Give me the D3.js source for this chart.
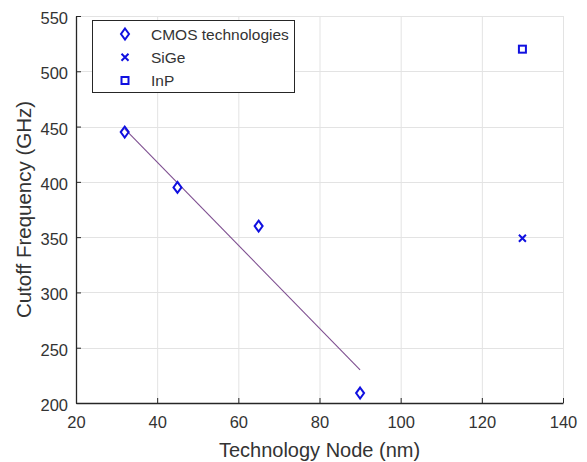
<!DOCTYPE html>
<html>
<head>
<meta charset="utf-8">
<script src="https://cdn.jsdelivr.net/npm/d3@7"></script>
<style>
  body { margin: 0; background: #fff; }
  svg { font-family: "Liberation Sans", Arial, sans-serif; }
</style>
</head>
<body>
<div id="chart"></div>
<script>
// values
const cmosNode = [32, 45, 65, 90];
const cmosFreq = [445, 395, 360, 209];
const sigeNode = [130];
const sigeFreq = [349];
const inpNode = [130];
const inpFreq = [520];
// fitted trend line, end points
const fitNode = [32, 90];
const fitFreq = [448, 230];

const xTicks = [20, 40, 60, 80, 100, 120, 140];
const yTicks = [200, 250, 300, 350, 400, 450, 500, 550];
const legendLabels = ["CMOS technologies", "SiGe", "InP"];

const W = 587, H = 462;
const margin = { left: 76, right: 24, top: 16, bottom: 59 };
const blue = "#1010e0";
const ink = "#333333";

const svg = d3.select("#chart").append("svg")
  .attr("width", W).attr("height", H);

const x = d3.scaleLinear().domain([20, 140]).range([margin.left, W - margin.right]);
const y = d3.scaleLinear().domain([200, 550]).range([H - margin.bottom, margin.top]);

// grid
const grid = svg.append("g").attr("stroke", "#e3e3e3").attr("stroke-width", 1);
grid.selectAll(".gx").data(xTicks.slice(1)).join("line")
  .attr("x1", d => x(d) + 0.5).attr("x2", d => x(d) + 0.5)
  .attr("y1", y(550)).attr("y2", y(200));
grid.selectAll(".gy").data(yTicks.slice(1)).join("line")
  .attr("y1", d => Math.round(y(d)) + 0.5).attr("y2", d => Math.round(y(d)) + 0.5)
  .attr("x1", x(20)).attr("x2", x(140));

// axes
const xAxis = svg.append("g")
  .attr("transform", `translate(0,${y(200)})`)
  .call(d3.axisBottom(x).tickValues(xTicks).tickSizeInner(-5).tickSizeOuter(0).tickPadding(13));
const yAxis = svg.append("g")
  .attr("transform", `translate(${x(20)},0)`)
  .call(d3.axisLeft(y).tickValues(yTicks).tickSizeInner(-5).tickSizeOuter(0).tickPadding(8));

[xAxis, yAxis].forEach(a => {
  a.select(".domain").attr("stroke", "#262626").attr("stroke-width", 1.3);
  a.selectAll(".tick line").attr("stroke", "#262626");
  a.selectAll("text").attr("fill", ink).style("font-size", "16.5px");
});
yAxis.selectAll("text").attr("dy", "0.45em");

// axis titles
svg.append("text")
  .attr("x", (x(20) + x(140)) / 2).attr("y", 457)
  .attr("text-anchor", "middle").attr("fill", ink)
  .style("font-size", "20px").text("Technology Node (nm)");
svg.append("text")
  .attr("transform", `translate(31,${(y(200) + y(550)) / 2}) rotate(-90)`)
  .attr("text-anchor", "middle").attr("fill", ink)
  .style("font-size", "20.5px").text("Cutoff Frequency (GHz)");

// trend line
svg.append("path")
  .datum(fitNode.map((n, i) => [n, fitFreq[i]]))
  .attr("fill", "none").attr("stroke", "#7e4f90").attr("stroke-width", 1.1)
  .attr("d", d3.line().x(d => x(d[0])).y(d => y(d[1])));

// markers
const diamond = (g, cx, cy) => g.append("path")
  .attr("d", `M${cx},${cy - 5.5}L${cx + 4},${cy}L${cx},${cy + 5.5}L${cx - 4},${cy}Z`)
  .attr("fill", "none").attr("stroke", blue).attr("stroke-width", 2);
const cross = (g, cx, cy) => g.append("path")
  .attr("d", `M${cx - 3.5},${cy - 3.5}L${cx + 3.5},${cy + 3.5}M${cx - 3.5},${cy + 3.5}L${cx + 3.5},${cy - 3.5}`)
  .attr("stroke", blue).attr("stroke-width", 2);
const square = (g, cx, cy) => g.append("rect")
  .attr("x", cx - 3.5).attr("y", cy - 3.5).attr("width", 7).attr("height", 7)
  .attr("fill", "none").attr("stroke", blue).attr("stroke-width", 2);

const pts = svg.append("g");
cmosNode.forEach((n, i) => diamond(pts, x(n), y(cmosFreq[i])));
sigeNode.forEach((n, i) => cross(pts, x(n), y(sigeFreq[i])));
inpNode.forEach((n, i) => square(pts, x(n), y(inpFreq[i])));

// legend
const leg = svg.append("g");
leg.append("rect")
  .attr("x", 92.5).attr("y", 20.5).attr("width", 202).attr("height", 72)
  .attr("fill", "#fff").attr("stroke", "#262626").attr("stroke-width", 1);
const legMarks = [diamond, cross, square];
legendLabels.forEach((label, i) => {
  const cy = 34 + i * 23.25;
  legMarks[i](leg, 125, cy);
  leg.append("text")
    .attr("x", 151).attr("y", cy).attr("dy", "0.36em")
    .attr("fill", ink).style("font-size", "15.5px").text(label);
});
</script>
</body>
</html>
